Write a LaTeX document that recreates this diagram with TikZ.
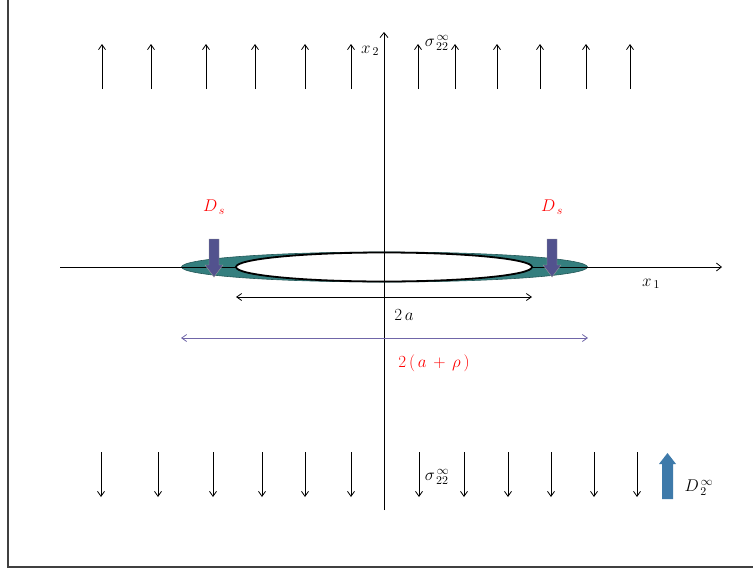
\RequirePackage{fix-cm}
\documentclass[tikz,border=0pt]{standalone}
\usepackage{amsmath,amssymb}
\usepackage{tikz}
\usetikzlibrary{arrows.meta,shapes,positioning,calc}
\usepackage{xcolor}

\definecolor{zoneteal}{RGB}{52,126,126}
\definecolor{dsblue}{RGB}{82,82,142}
\definecolor{dinfblue}{RGB}{62,122,170}
\definecolor{dimviolet}{RGB}{112,102,168}

\begin{document}
\begin{tikzpicture}[x=1pt,y=-1pt,
    load/.style={-{Straight Barb[length=5pt,width=7pt]}, line width=0.8pt},
    dimline/.style={{Straight Barb[length=5pt,width=7pt]}-{Straight Barb[length=5pt,width=7pt]}, line width=0.8pt},
    lbl/.style={font=\fontsize{17}{19}\selectfont},
    blockarrow/.style={draw=black!40, line width=0.4pt}]
    \useasboundingbox (0,0) rectangle (753,571);

    % cadre (gauche et bas seulement)
    \draw[line width=1.4pt, black!75] (8,0) -- (8,567) -- (753,567);

    % zone de process (ellipse externe)
    \filldraw[fill=zoneteal, draw=zoneteal!70!black, line width=0.6pt] (384.5,267) ellipse [x radius=203pt, y radius=15pt];

    % axes
    \coordinate (x1start) at (60,267);
    \coordinate (x1end) at (722,267);
    \coordinate (x2start) at (384,510);
    \coordinate (x2end) at (384,32);
    \draw[-{Straight Barb[length=5pt,width=8pt]}, line width=0.8pt] (x1start) -- (x1end);

    % fissure (ellipse interne)
    \filldraw[fill=white, draw=black, line width=1.8pt] (384,267) ellipse [x radius=148pt, y radius=14.5pt];

    \draw[-{Straight Barb[length=5pt,width=8pt]}, line width=0.8pt] (x2start) -- (x2end);
    \node[lbl] (lx1) at (651,284) {$x_{\,1}$};
    \node[lbl] (lx2) at (370,51) {$x_{\,2}$};

    % contraintes en haut (traction)
    \foreach \x in {102,151,206,255,305,351,418,455,497,540,586,630} {
        \draw[load] (\x,89) -- (\x,44);
    }
    % contraintes en bas
    \foreach \x in {101,158,213,262,305,351,419,464,508,551,594,637} {
        \draw[load] (\x,452) -- (\x,497);
    }
    \node[lbl] (sigtop) at (437,43) {$\sigma^{\,\infty}_{\,22}$};
    \node[lbl] (sigbot) at (437,477) {$\sigma^{\,\infty}_{\,22}$};

    % fleches D_s aux bouts de la fissure
    \foreach \cx/\nm in {214/dsl, 552/dsr} {
        \fill[dsblue, blockarrow] (\cx-5,239) -- (\cx+5,239) -- (\cx+5,265) -- (\cx+9,265)
            -- (\cx,277) -- (\cx-9,265) -- (\cx-5,265) -- cycle;
        \node[lbl, text=red] (\nm) at (\cx,207) {$D_{\,s}$};
    }

    % fleche D_2 a l'infini
    \fill[dinfblue] (662,499) -- (673,499) -- (673,464) -- (676,464) -- (667.5,453)
        -- (659,464) -- (662,464) -- cycle;
    \node[lbl] (dinf) at (699,488) {$D^{\,\infty}_{\,2}$};

    % cotes
    \coordinate (cl) at (236,297);
    \coordinate (cr) at (532,297);
    \draw[dimline] (cl) -- (cr);
    \node[lbl] (la) at (404,315) {$2\,a$};

    \coordinate (pl) at (181,338);
    \coordinate (pr) at (588,338);
    \draw[dimline, dimviolet] (pl) -- (pr);
    \node[lbl, text=red] (lap) at (434,363) {$2\,(\,a\,+\,\rho\,)$};
\end{tikzpicture}
\end{document}
